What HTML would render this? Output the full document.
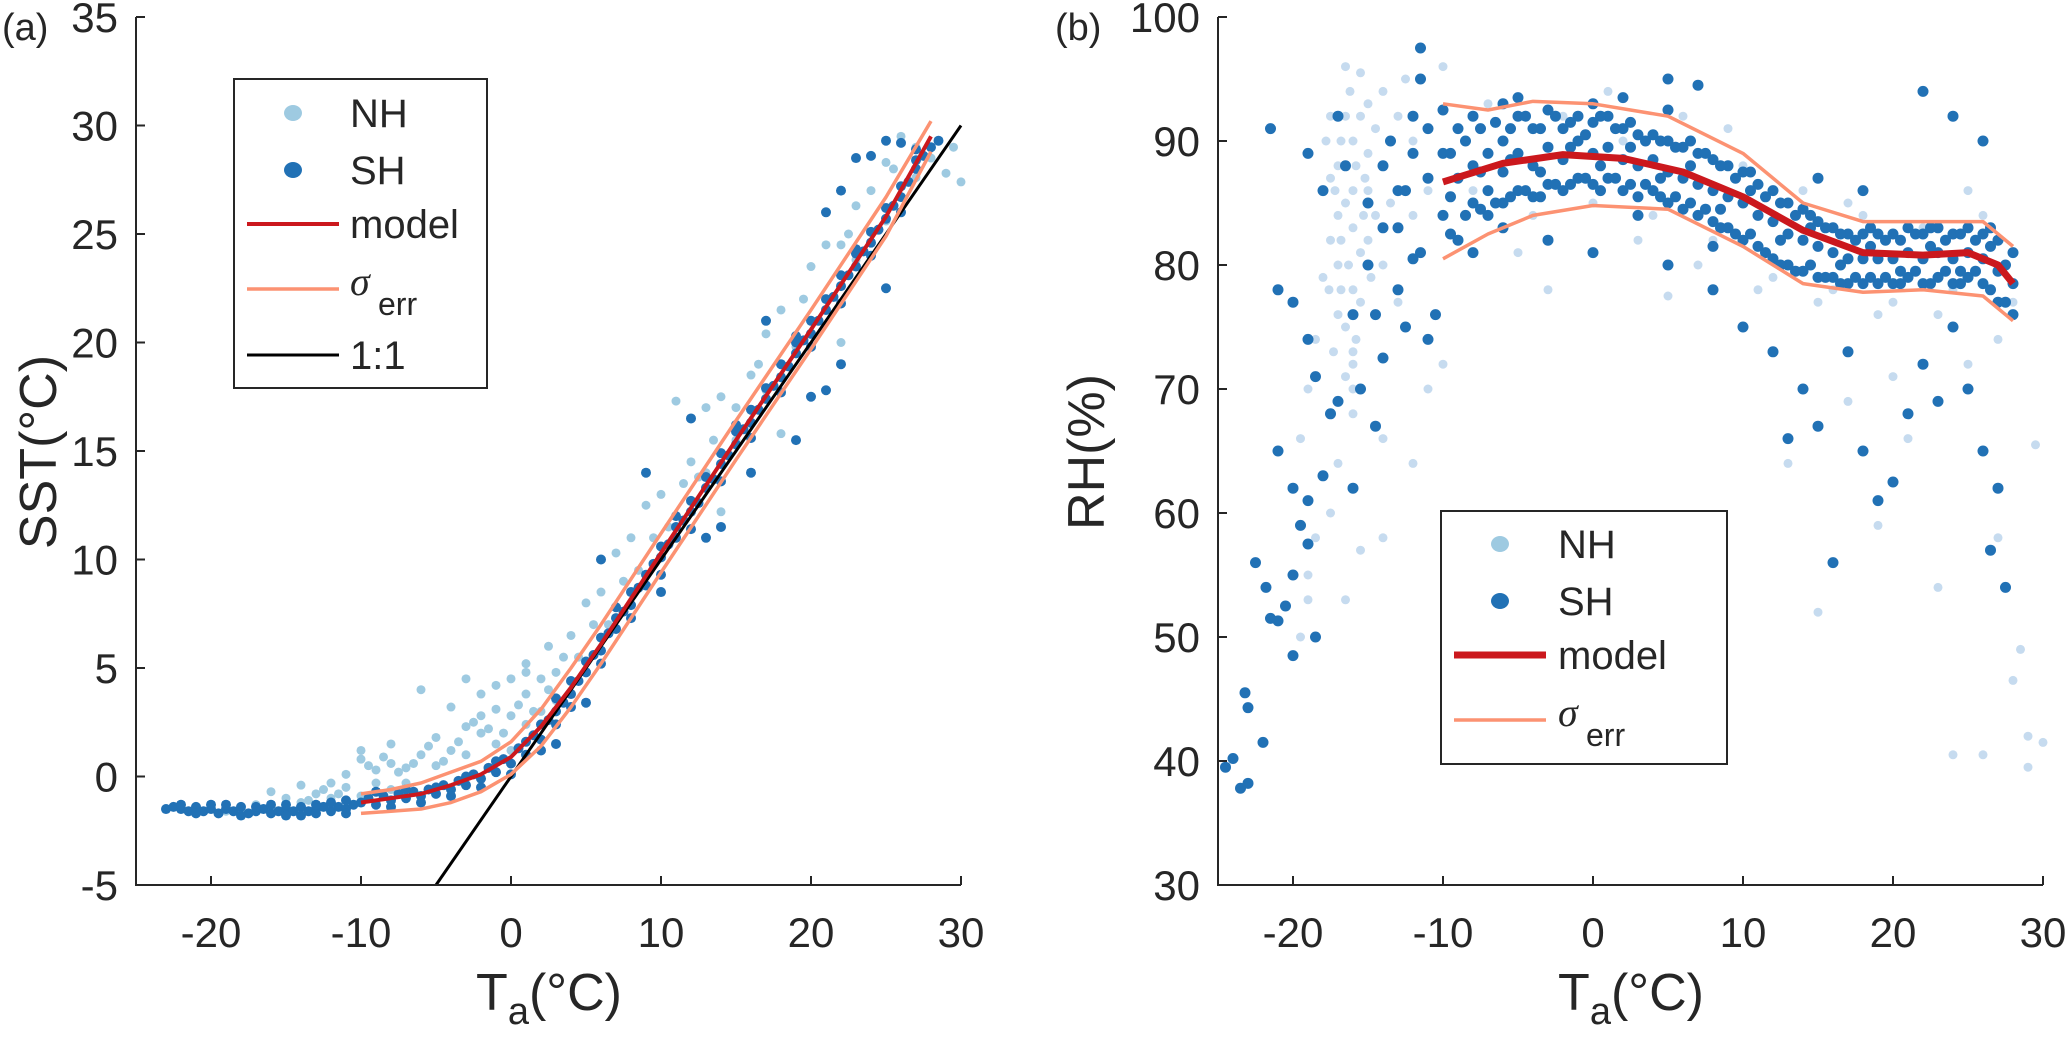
<!DOCTYPE html>
<html><head><meta charset="utf-8"><style>
html,body{margin:0;padding:0;background:#fff;}
svg{display:block;font-family:"Liberation Sans",sans-serif;}
</style></head><body>
<svg id="fig" width="2067" height="1043" viewBox="0 0 2067 1043"></svg>
<script>
// ---------- data: panel (a) ----------
const aModelX=[-10,-8,-6,-4,-2,0,2,4,6,8,10,15,20,25,28];
const aModelY=[-1.2,-1.0,-0.8,-0.4,0.1,0.9,2.3,4.1,6.1,8.2,10.3,15.5,20.6,25.8,29.5];
const aSigUpY=[-0.8,-0.6,-0.3,0.2,0.7,1.6,3.1,5.0,7.0,9.1,11.2,16.4,21.5,26.7,30.2];
const aSigLoY=[-1.7,-1.6,-1.5,-1.2,-0.7,0.1,1.4,3.2,5.2,7.3,9.4,14.6,19.7,24.9,28.8];
const aOneX=[-5,30];
const aSH=[[-23,-1.5],[-22.5,-1.4],[-22,-1.5],[-21.5,-1.6],[-21,-1.4],[-20.5,-1.6],[-20,-1.5],[-19.5,-1.7],[-19,-1.5],[-18.5,-1.6],[-18,-1.4],[-17.5,-1.7],[-17,-1.6],[-16.5,-1.5],[-16,-1.7],[-15.5,-1.6],[-15,-1.5],[-14.5,-1.6],[-14,-1.4],[-13.5,-1.6],[-13,-1.5],[-12.5,-1.4],[-12,-1.6],[-11.5,-1.4],[-11,-1.5],[-10.5,-1.3],[-10,-1.2],[-18,-1.8],[-16,-1.3],[-14,-1.8],[-12,-1.2],[-15,-1.3],[-13,-1.7],[-11,-1.1],[-20,-1.3],
[-9.5,-1.0],[-9,-1.3],[-8.5,-0.9],[-8,-1.1],[-7.5,-0.8],[-7,-1.0],[-6.5,-0.7],[-6,-0.9],[-5.5,-0.6],[-5,-0.8],[-4.5,-0.4],[-4,-0.6],[-3.5,-0.2],[-3,-0.4],[-2.5,0.1],[-2,-0.1],[-1.5,0.4],[-1,0.2],[-0.5,0.8],[0,0.6],[0.5,1.3],[1,1.0],[1.5,1.9],[2,1.7],[2.5,2.6],[3,2.4],[3.5,3.4],[4,3.8],[4.5,4.4],[5,4.8],[5.5,5.6],[6,5.8],[6.5,6.6],[7,6.8],[7.5,7.6],[8,7.9],[8.5,8.7],[9,8.8],[9.5,9.8],[10,10.1],[10.5,10.7],[11,11.0],[11.5,11.8],[12,12.2],[12.5,12.6],[13,13.3],[13.5,13.7],[14,14.4],[14.5,14.8],[15,15.3],[15.5,16.0],[16,16.3],[16.5,16.9],[17,17.4],[17.5,18.0],[18,18.4],[18.5,18.9],[19,19.5],[19.5,20.1],[20,20.4],[20.5,21.0],[21,21.5],[21.5,22.1],[22,22.6],[22.5,23.1],[23,23.5],[23.5,24.2],[24,24.6],[24.5,25.2],[25,25.7],[25.5,26.3],[26,26.7],[26.5,27.4],[27,28.0],[27.5,28.6],[28,29.0],
[2,1.2],[4,3.2],[6,5.2],[8,7.3],[10,9.3],[12,11.4],[14,13.6],[16,15.6],[18,17.7],[20,19.8],[22,21.8],[24,24.0],[26,26.0],[3,3.6],[7,7.8],[11,12.0],[15,16.2],[19,20.3],[23,24.3],[27,28.9],[28.5,29.3],[26,29.2],[24,28.6],[22,27.0],
[10,8.5],[13,11],[16,14],[20,17.5],[22,19.0],[21,17.8],[14,11.5],[5,3.4],[3,1.5],[25,22.5],[19,15.5],[6,10],[9,14],[12,16.5],[17,21],[21,26],[23,28.5],[25,29.3],
[-9,-0.7],[-8,-1.4],[-7,-0.6],[-6,-1.2],[-5,-0.5],[-4,-0.9],[-3,0],[-2,-0.5],[-1,0.7],[0,0.1],[1,1.6],[2,2.4],[3,3.0],[4,4.4],[5,5.3],[6,6.4],[7,7.3],[8,8.5],[9,9.3],[10,10.6],[11,11.5],[12,12.7],[13,13.8],[14,14.9],[15,15.9],[16,16.9],[17,17.9],[18,19.0],[19,20],[20,21],[21,22],[22,23.1],[23,24.1],[24,25.1],[25,26.2],[26,27.2],[27,28.4],[-21,-1.7],[-19,-1.3],[-17,-1.4],[-15,-1.8],[-13,-1.3],[-11,-1.7],[-22,-1.3]];
const aNH=[[-17,-1.3],[-16,-0.7],[-15,-1.0],[-14,-0.4],[-13,-0.8],[-12,-0.3],[-11,0.1],[-10,0.8],[-9,0.3],[-8,0.6],[-7,-0.3],[-6,1.0],[-5,1.8],[-4,1.2],[-3,2.3],[-2,2.0],[-1,3.1],[0,2.8],[1,3.8],[2,4.5],[3,4.8],[4,6.5],[5,8.0],[6,8.5],[7,10.3],[8,11],[9,12.5],[10,13],[11,17.3],[12,14.5],[13,14],[14,17.5],[15,17],[16,18.5],[17,20.4],[18,21.5],[19,20],[20,23.5],[21,24.5],[22,24.5],[23,26.3],[24,27],[25,28.3],[26,29.5],[27,29],[28,28.5],[29,27.8],[30,27.4],[29.5,29],[-18,-1.6],[-19,-1.6],[-16,-1.6],[-14,-1.2],[-12,-1.0],[-11,-0.5],[-9,-0.3],[-7,0.4],[-5,0.5],[-3,1.0],[-1,1.5],[1,2.4],[3,3.5],[4.5,5.5],[6.5,7.0],[8.5,9.5],[10.5,11.5],[12.5,13.8],[15,15.5],[17,17.8],[19,19.8],[21,22],[23,23.8],[25,25.6],[27,27.6],[-6,4],[-3,4.5],[-2,2.8],[0,1.2],[2,3.0],[-10,-0.9],[-8,-0.6],[-15,-1.5],[13,17],[18,15.8],[14,12.2],[22,20],[-1,4.2],[1,5.2],[2.5,6],[-4,3.2],[-8,1.5],[-10,1.2],
[-9.5,0.5],[-8.5,0.9],[-7.5,0.2],[-6.5,0.6],[-5.5,1.4],[-4.5,0.7],[-3.5,1.6],[-2.5,2.5],[-1.5,2.2],[-0.5,2.0],[0.5,3.3],[1.5,3.0],[2.5,4.0],[3.5,5.5],[-12.5,-0.6],[-13.5,-1.1],[-11.5,-0.8],[0,4.5],[1,4.8],[-2,3.8],[5.5,7],[7.5,9],[9.5,11],[11.5,13.5],[13.5,15.5],[16.5,19],[19.5,22],[22.5,25],[25.5,28]];
const aXTicks=[-20,-10,0,10,20,30];
const aYTicks=[-5,0,5,10,15,20,25,30,35];
// ---------- data: panel (b) ----------
const bModelX=[-10,-6,-2,2,6,10,14,18,22,25,27,28];
const bModelY=[86.7,88.2,88.9,88.6,87.5,85.5,82.8,81,80.8,81,80,78.5];
const bSigX=[-10,-7,-4,0,5,10,14,18,22,26,28];
const bSigUpY=[93,92.5,93.2,93,92,89,85,83.5,83.5,83.5,81.5];
const bSigLoY=[80.5,82.5,84,84.8,84.5,81.5,78.5,77.8,78,77.5,75.5];
const bSH=[[-10,84],[-10,89],[-9,82],[-9,87],[-9,91],[-8,85],[-8,88],[-8,92],[-7,84],[-7,89],[-7,86],[-6,85],[-6,90],[-6,87.5],[-5,86],[-5,89],[-5,92],[-4,85.5],[-4,88],[-4,91],[-3,86.5],[-3,89.5],[-3,92.5],[-2,86],[-2,88.5],[-2,91],[-1,87],[-1,90],[-1,92],[0,86.5],[0,89],[0,91.5],[1,87],[1,89.5],[1,92],[2,86],[2,88.5],[2,91],[3,85.5],[3,88],[3,90.5],[4,86],[4,88.5],[4,90.5],[5,85],[5,87.5],[5,90],[6,84.5],[6,87],[6,89.5],[7,84],[7,86.5],[7,89],[8,83.5],[8,86],[8,88.5],[9,83],[9,85.5],[9,88],[10,82],[10,85],[10,87.5],[11,81.5],[11,84],[11,86.5],[12,80.5],[12,83.5],[12,86],[13,80],[13,82.5],[13,85],[14,79.5],[14,82],[14,84.5],[15,79],[15,81.5],[15,83.5],[16,79],[16,81],[16,83],[17,78.5],[17,80.5],[17,82.5],[18,78.5],[18,80.5],[18,82.5],[19,78.5],[19,80.5],[19,82.5],[20,78.5],[20,80.5],[20,82.5],[21,79],[21,81],[21,83],[22,78.5],[22,80.5],[22,82.5],[23,79],[23,81],[23,83],[24,78.5],[24,80.5],[24,82.5],[25,79],[25,81],[25,83],[26,78.5],[26,80.5],[26,82.5],[27,77],[27,79.5],[27,82],[28,76],[28,78.5],[28,81],
[-9.5,85.5],[-7.5,87.5],[-5.5,88.5],[-3.5,87.5],[-1.5,89.5],[0.5,88],[2.5,89.5],[4.5,87],[6.5,88],[8.5,84.5],[10.5,86],[12.5,82],[14.5,83],[16.5,80],[18.5,81.5],[20.5,79.5],[22.5,81.5],[24.5,79.5],[26.5,81.5],
[-9.5,89],[-9.5,82.5],[-8.5,90],[-8.5,84],[-7.5,91],[-7.5,84.5],[-6.5,91.5],[-6.5,85],[-5.5,91],[-5.5,85.5],[-4.5,92],[-4.5,86],[-3.5,91],[-3.5,85.5],[-2.5,92],[-2.5,86.5],[-1.5,91.5],[-1.5,86.5],[-0.5,90.5],[-0.5,87],[0.5,92],[0.5,86],[1.5,91],[1.5,87],[2.5,91.5],[2.5,86.5],[3.5,90],[3.5,86.5],[4.5,90],[4.5,85.5],[5.5,89.5],[5.5,85.5],[6.5,90],[6.5,85],[7.5,89],[7.5,84.5],[8.5,88],[8.5,83],[9.5,87],[9.5,82.5],[10.5,87.5],[10.5,82.5],[11.5,85.5],[11.5,81],[12.5,85],[12.5,80],[13.5,84],[13.5,79.5],[14.5,84],[14.5,80],[15.5,83],[15.5,79],[16.5,82.5],[16.5,78.5],[17.5,82],[17.5,79],[18.5,83],[18.5,79],[19.5,82],[19.5,79],[20.5,82],[20.5,78.5],[21.5,82.5],[21.5,79.5],[22.5,83],[22.5,78.5],[23.5,82],[23.5,79.5],[24.5,82.5],[24.5,78.5],[25.5,82],[25.5,79.5],[26.5,83],[26.5,78],[27.5,80],[27.5,77],[-10,92.5],[0,93],[-5,93.5],[5,92.5],[-8,81],[-6,83],[3,84],[8,81.5],
[-24.5,39.5],[-24,40.2],[-23.5,37.8],[-23,38.2],[-23,44.3],[-23.2,45.5],[-22,41.5],[-21.8,54],[-21.5,51.5],[-21,51.3],[-22.5,56],[-21.5,91],[-20,48.5],[-20.5,52.5],[-20,55],[-19.5,59],[-19,57.5],[-18.5,50],[-19,61],[-20,62],[-18,63],[-21,65],[-21,78],[-20,77],[-19,74],[-18.5,71],[-17.5,68],[-17,69],[-16,62],[-15.5,70],[-14.5,67],[-14,72.5],[-16,76],[-15,80],[-14,83],[-13,86],[-12,89],[-11.5,95],[-12,92],[-13,78],[-12.5,75],[-11,74],[-11.5,81],[-13.5,90],[-15,85],[-16.5,88],[-18,86],[-19,89],[-17,92],[-14.5,76],[-10.5,76],[-12,80.5],[-11,87],[-13,83],[-11,91],[-12.5,86],[-14,88],
[12,73],[13,66],[14,70],[15,67],[16,56],[17,73],[18,65],[19,61],[20,62.5],[21,68],[22,72],[23,69],[24,75],[25,70],[26,65],[27,62],[27.5,54],[26.5,57],[10,75],[8,78],[5,80],[0,81],[-3,82],[22,94],[24,92],[26,90],[5,95],[7,94.5],[-11.5,97.5],[2,93.5],[-6,93],[18,86],[15,87]];
const bNH=[[-17.5,92],[-17,88],[-16.5,85],[-16,83],[-15.5,81],[-16,78],[-16.5,75],[-16,72],[-16,70],[-17,80],[-17,84],[-15,89],[-15,86],[-14.5,91],[-14,94],[-15.5,95.5],[-16.5,96],[-17.5,87],[-17,76],[-16,90],[-15,82],[-15.5,77],[-16.5,92],[-16,86],[-17.5,82],[-15,93],[-14,88],[-18,79],[-18.5,74],[-19,70],[-19.5,66],[-20,62],[-19,55],[-19.5,50],[-19,53],[-18.5,58],[-17,64],[-17.5,60],[-16,73],[-13,92],[-12,90],[-12.5,95],[-13.5,85],[-14,80],[-13,77],[-12,84],[-11,86],[-10,96],[-14,58],[-15.5,57],[-16.5,53],[-14,66],[-11,70],[-12,64],[-10,72],
[-16.8,90],[-15.8,88],[-16.3,80],[-15.3,84],[-16.8,78],[-15.8,74],[-16.5,71],[-17.2,86],[-14.8,79],[-15.5,92],[-16.2,94],[-17.8,90],[-16.8,82],[-15.2,87],[-14.5,84],[-17.3,73],[-16,68],[-17.6,78],
[-8,86],[-6,90],[-4,84],[-2,92],[0,85],[2,90],[4,84],[6,92],[8,82],[10,88],[12,79],[14,86],[16,78],[18,84],[20,77],[22,83],[24,78],[26,84],[28,77],[-5,81],[3,82],[7,80],[11,78],[15,77],[19,76],[23,76],[27,74],[-7,93],[1,94],[9,91],[17,85],[25,86],[13,64],[15,52],[17,69],[21,66],[23,54],[24,40.5],[26,40.5],[28,46.5],[28.5,49],[29,42],[30,41.5],[29.5,65.5],[29,39.5],[27,58],[19,59],[20,71],[25,72],[-3,78],[5,77.5]];
const bYTicks=[30,40,50,60,70,80,90,100];

const NS='http://www.w3.org/2000/svg';
const svg=document.getElementById('fig');
function mk(tag,attrs,parent){const e=document.createElementNS(NS,tag);for(const k in attrs)e.setAttribute(k,attrs[k]);(parent||svg).appendChild(e);return e;}
const C_NH='#9ecae1',C_NH2='#c6dbef',C_SH='#2171b5',C_M='#cb181d',C_S='#fc9272',AX='#262626';

function panel(p){
  const sx=v=>p.x0+(v-p.xmin)/(p.xmax-p.xmin)*(p.x1-p.x0);
  const sy=v=>p.y1-(v-p.ymin)/(p.ymax-p.ymin)*(p.y1-p.y0);
  const g=mk('g',{});
  
  
  const gn=mk('g',{fill:p.nhColor},g);
  
  
  p.nh.forEach(d=>{const c=mk('circle',{cx:sx(d[0]),cy:sy(d[1]),r:4.5},gn);
    
    });
  const gs=mk('g',{fill:C_SH},g);
  
  
  p.sh.forEach(d=>{const c=mk('circle',{cx:sx(d[0]),cy:sy(d[1]),r:p.shR},gs);
    
    });
  const line=(xs,ys,col,w,name)=>{const l=mk('polyline',{points:xs.map((x,i)=>sx(x)+','+sy(ys[i])).join(' '),fill:'none',stroke:col,'stroke-width':w,'stroke-linejoin':'round'},g);
    
    };
  if(p.one){line(p.one,p.one,'#000',3,'one-to-one-line');}
  line(p.sigX,p.sigUp,C_S,3.5,'sigma-upper-line');
  line(p.sigX,p.sigLo,C_S,3.5,'sigma-lower-line');
  line(p.mX,p.mY,C_M,p.mW,'model-line');
  const ax=mk('path',{d:`M${p.x0},${p.y0} L${p.x0},${p.y1} L${p.x1},${p.y1}`,fill:'none',stroke:AX,'stroke-width':2},g);
  
  
  p.xt.forEach(t=>{const x=sx(t);mk('line',{x1:x,x2:x,y1:p.y1,y2:p.y1-9,stroke:AX,'stroke-width':2},g);
    const tx=mk('text',{x:x,y:p.y1+62,'text-anchor':'middle','font-size':42,fill:AX},g);tx.textContent=t;
    
    });
  p.yt.forEach(t=>{const y=sy(t);mk('line',{x1:p.x0,x2:p.x0+9,y1:y,y2:y,stroke:AX,'stroke-width':2},g);
    const tx=mk('text',{x:p.x0-18,y:y+15,'text-anchor':'end','font-size':42,fill:AX},g);tx.textContent=t;
    
    });
}
panel({name:'panel-a',x0:136,x1:961,y0:17,y1:885,xmin:-25,xmax:30,ymin:-5,ymax:35,nh:aNH,sh:aSH,nhColor:C_NH,shR:5,
  mX:aModelX,mY:aModelY,sigX:aModelX,sigUp:aSigUpY,sigLo:aSigLoY,mW:4,one:aOneX,xt:aXTicks,yt:aYTicks});
panel({name:'panel-b',x0:1218,x1:2043,y0:17,y1:885,xmin:-25,xmax:30,ymin:30,ymax:100,nh:bNH,sh:bSH,nhColor:C_NH2,shR:5.5,
  mX:bModelX,mY:bModelY,sigX:bSigX,sigUp:bSigUpY,sigLo:bSigLoY,mW:7,one:null,xt:aXTicks,yt:bYTicks});
</script>
<div style="position:absolute;left:0;top:0;width:2067px;height:1043px;pointer-events:none;">
<svg width="2067" height="1043" style="position:absolute;left:0;top:0" font-family="Liberation Sans, sans-serif" fill="#262626">
  <text x="2" y="40" font-size="38">(a)</text>
  <text x="1055" y="40" font-size="38">(b)</text>
  <text transform="translate(56,452) rotate(-90)" text-anchor="middle" font-size="52">SST(°C)</text>
  <text transform="translate(1104,452) rotate(-90)" text-anchor="middle" font-size="52">RH(%)</text>
  <text x="549" y="1010" text-anchor="middle" font-size="52">T<tspan font-size="38" dy="14">a</tspan><tspan dy="-14">(°C)</tspan></text>
  <text x="1631" y="1010" text-anchor="middle" font-size="52">T<tspan font-size="38" dy="14">a</tspan><tspan dy="-14">(°C)</tspan></text>
  <g>
    <rect x="234" y="79" width="253" height="309" fill="#fff" stroke="#262626" stroke-width="2"/>
    <ellipse cx="293" cy="113" rx="9" ry="8" fill="#9ecae1"/>
    <text x="350" y="127" font-size="40">NH</text>
    <ellipse cx="293" cy="170" rx="9" ry="8" fill="#2171b5"/>
    <text x="350" y="184" font-size="40">SH</text>
    <line x1="247" x2="339" y1="224" y2="224" stroke="#cb181d" stroke-width="4"/>
    <text x="350" y="238" font-size="40">model</text>
    <line x1="247" x2="339" y1="289" y2="289" stroke="#fc9272" stroke-width="3.5"/>
    <text x="350" y="295" font-size="40" font-style="italic" font-family="Liberation Serif, serif">σ</text>
    <text x="378" y="315" font-size="32">err</text>
    <line x1="247" x2="339" y1="355" y2="355" stroke="#000" stroke-width="3"/>
    <text x="350" y="369" font-size="40">1:1</text>
  </g>
  <g>
    <rect x="1441" y="511" width="286" height="253" fill="#fff" stroke="#262626" stroke-width="2"/>
    <ellipse cx="1500" cy="544" rx="9" ry="8" fill="#9ecae1"/>
    <text x="1558" y="558" font-size="40">NH</text>
    <ellipse cx="1500" cy="601" rx="9" ry="8" fill="#2171b5"/>
    <text x="1558" y="615" font-size="40">SH</text>
    <line x1="1454" x2="1546" y1="655" y2="655" stroke="#cb181d" stroke-width="7"/>
    <text x="1558" y="669" font-size="40">model</text>
    <line x1="1454" x2="1546" y1="720" y2="720" stroke="#fc9272" stroke-width="3.5"/>
    <text x="1558" y="726" font-size="40" font-style="italic" font-family="Liberation Serif, serif">σ</text>
    <text x="1586" y="746" font-size="32">err</text>
  </g>
</svg>
</div>
</body></html>
